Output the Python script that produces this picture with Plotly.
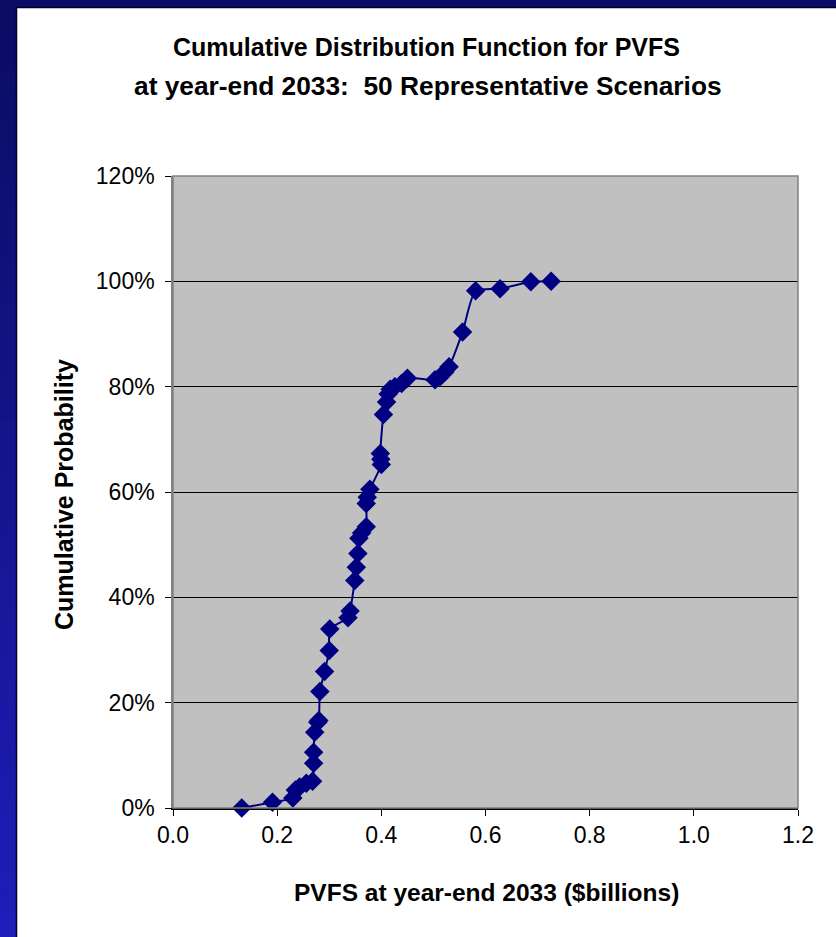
import plotly.graph_objects as go

# PVFS at year-end 2033 ($billions) and cumulative probability
pvfs = [0.132, 0.191, 0.230, 0.235, 0.243, 0.256, 0.268, 0.270, 0.270, 0.272,
        0.278, 0.280, 0.282, 0.291, 0.300, 0.301, 0.336, 0.340, 0.349, 0.352,
        0.355, 0.357, 0.362, 0.371, 0.371, 0.373, 0.378, 0.400, 0.399, 0.398,
        0.404, 0.410, 0.413, 0.417, 0.426, 0.439, 0.450, 0.503, 0.513, 0.522,
        0.530, 0.556, 0.581, 0.628, 0.687, 0.726]
cum_prob = [0.000, 0.011, 0.019, 0.034, 0.040, 0.047, 0.051, 0.085, 0.106, 0.144,
            0.163, 0.166, 0.221, 0.259, 0.299, 0.340, 0.361, 0.374, 0.432, 0.457,
            0.483, 0.512, 0.522, 0.534, 0.578, 0.590, 0.605, 0.652, 0.662, 0.673,
            0.747, 0.771, 0.786, 0.795, 0.800, 0.806, 0.816, 0.813, 0.819, 0.828,
            0.838, 0.904, 0.982, 0.986, 0.999, 1.000]

x_ticks = [0.0, 0.2, 0.4, 0.6, 0.8, 1.0, 1.2]
x_tick_labels = ["0.0", "0.2", "0.4", "0.6", "0.8", "1.0", "1.2"]
y_ticks = [0.0, 0.2, 0.4, 0.6, 0.8, 1.0, 1.2]
y_tick_labels = ["0%", "20%", "40%", "60%", "80%", "100%", "120%"]

title_line1 = "Cumulative Distribution Function for PVFS"
title_line2 = "at year-end 2033:  50 Representative Scenarios"
x_title = "PVFS at year-end 2033 ($billions)"
y_title = "Cumulative Probability"

W, H = 836, 937
L, R, T, B = 173, 38, 176, 129
PW, PH = W - L - R, H - T - B


def px_x(p):
    return (p - L) / PW


def px_y(p):
    return (H - B - p) / PH


FONT = "Liberation Sans, Arial, sans-serif"

fig = go.Figure()
fig.add_trace(go.Scatter(
    x=pvfs, y=cum_prob, mode="lines+markers",
    line=dict(color="#000080", width=2, shape="spline", smoothing=0.6),
    marker=dict(symbol="diamond", size=15, color="#000080",
                line=dict(width=0)),
    showlegend=False, cliponaxis=False,
))

shapes = []
# gradient slide background (left and top bands)
n = 40
top_c = (12, 12, 100)
bot_c = (30, 30, 185)
for i in range(n):
    f = i / (n - 1)
    c = tuple(int(top_c[k] + (bot_c[k] - top_c[k]) * f) for k in range(3))
    y0 = i * H / n
    y1 = (i + 1) * H / n + 1
    shapes.append(dict(type="rect", xref="paper", yref="paper", layer="below",
                       x0=px_x(0), x1=px_x(W), y0=px_y(y1), y1=px_y(y0),
                       fillcolor="rgb(%d,%d,%d)" % c, line=dict(width=0)))
# top band darker
shapes.append(dict(type="rect", xref="paper", yref="paper", layer="below",
                   x0=px_x(0), x1=px_x(W), y0=px_y(8), y1=px_y(0),
                   fillcolor="#0c0c66", line=dict(width=0)))
# white panel
shapes.append(dict(type="rect", xref="paper", yref="paper", layer="below",
                   x0=px_x(16.5), x1=px_x(W + 5), y0=px_y(H + 5), y1=px_y(7.5),
                   fillcolor="white", line=dict(color="#000030", width=1.5)))
# plot area
shapes.append(dict(type="rect", xref="paper", yref="paper", layer="below",
                   x0=0, x1=1, y0=0, y1=1, fillcolor="#C0C0C0",
                   line=dict(width=0)))
# plot border (gray)
shapes.append(dict(type="rect", xref="paper", yref="paper", layer="above",
                   x0=0, x1=1, y0=0, y1=1, fillcolor="rgba(0,0,0,0)",
                   line=dict(color="#808080", width=1.5)))

annotations = [
    dict(text="<b>%s</b>" % title_line1, x=px_x(426), y=px_y(47), xref="paper",
         yref="paper", showarrow=False, xanchor="center", yanchor="middle",
         font=dict(family=FONT, size=25, color="black")),
    dict(text="<b>%s</b>" % title_line2, x=px_x(428), y=px_y(86), xref="paper",
         yref="paper", showarrow=False, xanchor="center", yanchor="middle",
         font=dict(family=FONT, size=26.3, color="black")),
    dict(text="<b>%s</b>" % x_title, x=px_x(486), y=px_y(892), xref="paper",
         yref="paper", showarrow=False, xanchor="center", yanchor="middle",
         font=dict(family=FONT, size=24.5, color="black")),
    dict(text="<b>%s</b>" % y_title, x=px_x(64), y=px_y(495), xref="paper",
         yref="paper", showarrow=False, xanchor="center", yanchor="middle",
         textangle=-90, font=dict(family=FONT, size=25, color="black")),
]

fig.update_layout(
    width=W, height=H,
    margin=dict(l=L, r=R, t=T, b=B, pad=0),
    paper_bgcolor="#1a1a9a",
    plot_bgcolor="rgba(0,0,0,0)",
    shapes=shapes,
    annotations=annotations,
    xaxis=dict(range=[0, 1.2], tickvals=x_ticks, ticktext=x_tick_labels,
               showgrid=False, zeroline=False, showline=True,
               linecolor="black", linewidth=1.5, ticks="outside",
               ticklen=6, tickcolor="black", tickwidth=1,
               tickfont=dict(family=FONT, size=23, color="black")),
    yaxis=dict(range=[0, 1.2], tickvals=y_ticks, ticktext=y_tick_labels,
               showgrid=True, gridcolor="black", gridwidth=1,
               zeroline=False, showline=True, linecolor="#808080",
               linewidth=1.5, ticks="outside", ticklen=6, tickcolor="black",
               tickwidth=1, ticklabelstandoff=6,
               tickfont=dict(family=FONT, size=23, color="black")),
)

fig.write_html("out.html")
